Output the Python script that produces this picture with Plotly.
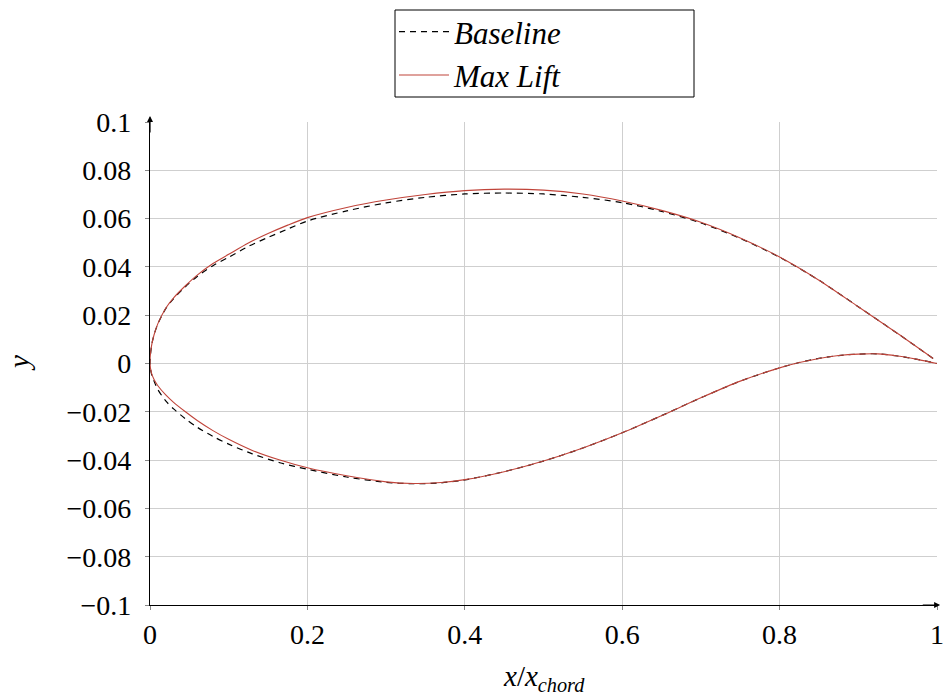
import plotly.graph_objects as go

# ---- data ----
# Upper surfaces
upper_x = [0.0, 0.002, 0.005, 0.01, 0.02, 0.03, 0.045, 0.06, 0.08, 0.1, 0.125, 0.15,
           0.175, 0.2, 0.25, 0.3, 0.35, 0.4, 0.45, 0.5, 0.55, 0.6, 0.65, 0.7, 0.75,
           0.8, 0.85, 0.9, 0.95, 0.995]
base_upper_y = [0.0, 0.0074, 0.0117, 0.0164, 0.0227, 0.0269, 0.0318, 0.0360, 0.0405,
                0.0440, 0.0485, 0.0522, 0.0557, 0.0590, 0.0632, 0.0665, 0.0688, 0.0702,
                0.0706, 0.0702, 0.0688, 0.0666, 0.0630, 0.0582, 0.0518, 0.0440, 0.0345,
                0.0235, 0.0124, 0.0021]
max_upper_y = [0.0, 0.0074, 0.0117, 0.0165, 0.0229, 0.0272, 0.0322, 0.0366, 0.0414,
               0.0452, 0.0499, 0.0538, 0.0573, 0.0604, 0.0646, 0.0677, 0.0700, 0.0716,
               0.0722, 0.0718, 0.0702, 0.0673, 0.0634, 0.0585, 0.0520, 0.0441, 0.0345,
               0.0235, 0.0124, 0.0021]

# Lower surfaces
lower_x = [0.0, 0.002, 0.005, 0.01, 0.02, 0.03, 0.045, 0.06, 0.08, 0.1, 0.13, 0.165,
           0.2, 0.25, 0.3, 0.335, 0.37, 0.4, 0.45, 0.5, 0.55, 0.6, 0.65, 0.7, 0.75,
           0.8, 0.825, 0.85, 0.875, 0.9, 0.925, 0.95, 0.975, 1.0]
base_lower_y = [0.0, -0.0045, -0.0072, -0.0108, -0.0155, -0.0188, -0.0229, -0.0264,
                -0.0302, -0.0334, -0.0374, -0.0411, -0.0438, -0.0470, -0.0492, -0.0498,
                -0.0494, -0.0482, -0.0448, -0.0404, -0.0350, -0.0287, -0.0216, -0.0142,
                -0.0073, -0.0018, 0.0004, 0.0021, 0.0033, 0.0039, 0.0040, 0.0031,
                0.0017, 0.0]
max_lower_y = [0.0, -0.0041, -0.0065, -0.0092, -0.0130, -0.0161, -0.0200, -0.0236,
               -0.0278, -0.0314, -0.0360, -0.0400, -0.0432, -0.0465, -0.0490, -0.0497,
               -0.0493, -0.0481, -0.0448, -0.0404, -0.0350, -0.0287, -0.0216, -0.0142,
               -0.0073, -0.0018, 0.0004, 0.0021, 0.0033, 0.0039, 0.0040, 0.0031,
               0.0017, 0.0]

x_ticks = [0, 0.2, 0.4, 0.6, 0.8, 1]
x_tick_text = ["0", "0.2", "0.4", "0.6", "0.8", "1"]
y_ticks = [-0.1, -0.08, -0.06, -0.04, -0.02, 0, 0.02, 0.04, 0.06, 0.08, 0.1]
y_tick_text = ["\u22120.1", "\u22120.08", "\u22120.06", "\u22120.04", "\u22120.02", "0",
               "0.02", "0.04", "0.06", "0.08", "0.1"]

FONT = "Liberation Serif"
RED = "#c0443a"

# plot-area geometry in pixels
L, R, T, B = 150, 937, 122, 605
W, H = 943, 698


def px_x(p):
    return (p - L) / (R - L)


def px_y(p):
    return (B - p) / (B - T)


def closed(ux, uy, lx, ly):
    xs = list(reversed(ux)) + lx[1:]
    ys = list(reversed(uy)) + ly[1:]
    return xs, ys


bx, by = closed(upper_x, base_upper_y, lower_x, base_lower_y)
mx, my = closed(upper_x, max_upper_y, lower_x, max_lower_y)

fig = go.Figure()
fig.add_trace(go.Scatter(x=bx, y=by, mode="lines", name="<i>Baseline</i>",
                         line=dict(color="black", width=1.2, dash="6px,5px",
                                   shape="spline", smoothing=0.8),
                         cliponaxis=False))
fig.add_trace(go.Scatter(x=mx, y=my, mode="lines", name="<i>Max Lift</i>",
                         line=dict(color=RED, width=1.1, shape="spline", smoothing=0.8),
                         cliponaxis=False))

fig.update_layout(
    width=W, height=H,
    margin=dict(l=L, r=W - R, t=T, b=H - B, autoexpand=False),
    paper_bgcolor="white", plot_bgcolor="white",
    font=dict(family=FONT, size=28, color="black"),
    showlegend=True,
    legend=dict(x=px_x(394), y=px_y(5), xanchor="left", yanchor="top",
                borderwidth=0, bgcolor="rgba(0,0,0,0)",
                font=dict(family=FONT, size=31), tracegroupgap=0,
                itemwidth=50),
    shapes=[dict(type="rect", xref="paper", yref="paper",
                 x0=px_x(395), x1=px_x(694), y0=px_y(97), y1=px_y(10),
                 line=dict(color="black", width=1), fillcolor="rgba(0,0,0,0)",
                 layer="above")],
)
fig.update_xaxes(range=[0, 1], tickvals=x_ticks, ticktext=x_tick_text,
                 showgrid=True, gridcolor="#cfcfcf", gridwidth=1,
                 zeroline=False, showline=True, linecolor="black", linewidth=1.2,
                 ticks="outside", ticklen=4, tickcolor="#888888",
                 ticklabelstandoff=0, ticklabeloverflow="allow", automargin=False)
fig.update_yaxes(range=[-0.1, 0.1], tickvals=y_ticks, ticktext=y_tick_text,
                 showgrid=True, gridcolor="#cfcfcf", gridwidth=1,
                 zeroline=False, showline=True, linecolor="black", linewidth=1.2,
                 ticks="outside", ticklen=4, tickcolor="#888888",
                 ticklabelstandoff=8, automargin=False)

# axis titles
fig.add_annotation(x=px_x(544), y=px_y(678), xref="paper", yref="paper",
                   text="<i>x</i>/<i>x</i><sub><i>chord</i></sub>", showarrow=False,
                   xanchor="center", yanchor="middle", font=dict(size=29))
fig.add_annotation(x=px_x(19), y=px_y(363), xref="paper", yref="paper",
                   text="<i>y</i>", showarrow=False, textangle=-90,
                   xanchor="center", yanchor="middle", font=dict(size=29))

# axis arrowheads
fig.add_annotation(x=1.004, y=-0.1, ax=0.98, ay=-0.1, xref="x", yref="y",
                   axref="x", ayref="y", showarrow=True, arrowhead=2,
                   arrowsize=1, arrowwidth=1.2, arrowcolor="black", text="")
fig.add_annotation(x=0, y=0.1025, ax=0, ay=0.095, xref="x", yref="y",
                   axref="x", ayref="y", showarrow=True, arrowhead=2,
                   arrowsize=1, arrowwidth=1.2, arrowcolor="black", text="")

fig.write_html("out.html", config={"displayModeBar": False},
               post_script="document.body.style.margin='0';")
